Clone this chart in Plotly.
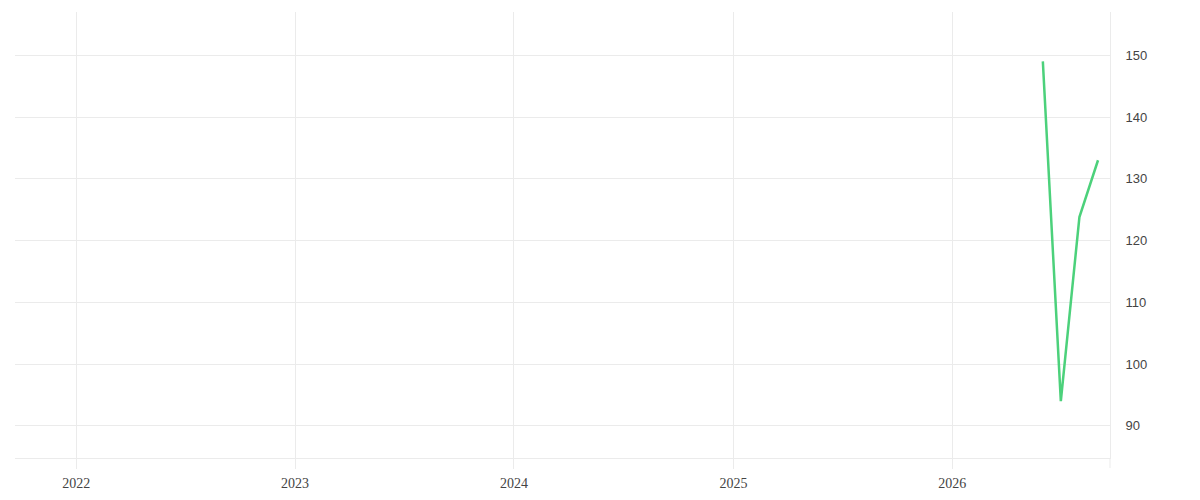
import plotly.graph_objects as go

# monthly values, only the last months of 2026 are filled
dates = ["2026-06-01", "2026-07-01", "2026-08-01", "2026-09-01"]
values = [149, 94, 123.8, 133]

x_ticks = ["2022-01-01", "2023-01-01", "2024-01-01", "2025-01-01", "2026-01-01"]
x_labels = ["2022", "2023", "2024", "2025", "2026"]
y_ticks = [90, 100, 110, 120, 130, 140, 150]

grid = "#ebebeb"

fig = go.Figure()
fig.add_trace(go.Scatter(x=dates, y=values, mode="lines",
                         line=dict(color="#4cd17b", width=2.5),
                         showlegend=False))

# the page sits 8px in from the window corner, margins account for that
fig.update_layout(width=1200, height=500,
                  margin=dict(l=7, r=98, t=4, b=50),
                  paper_bgcolor="white", plot_bgcolor="white")

fig.update_xaxes(type="date",
                 range=["2021-09-21", "2026-09-21"],
                 tickvals=x_ticks, ticktext=x_labels,
                 showgrid=True, gridcolor=grid, gridwidth=1,
                 showline=True, linecolor=grid, linewidth=1,
                 ticks="outside", ticklen=10, tickcolor=grid,
                 zeroline=False, ticklabelstandoff=2,
                 tickfont=dict(family="Liberation Serif", size=14, color="#444"))

fig.update_yaxes(side="right", range=[84.8, 157.0],
                 tickvals=y_ticks,
                 showgrid=True, gridcolor=grid, gridwidth=1,
                 showline=True, linecolor=grid, linewidth=1,
                 zeroline=False, ticklabelstandoff=12,
                 tickfont=dict(family="Liberation Sans", size=13, color="#444"))

# right border runs down past the x axis like the tick marks
fig.add_shape(type="line", xref="paper", yref="paper",
              x0=1, x1=1, y0=0, y1=-10 / 446,
              line=dict(color=grid, width=1))

fig.write_html("out.html")
